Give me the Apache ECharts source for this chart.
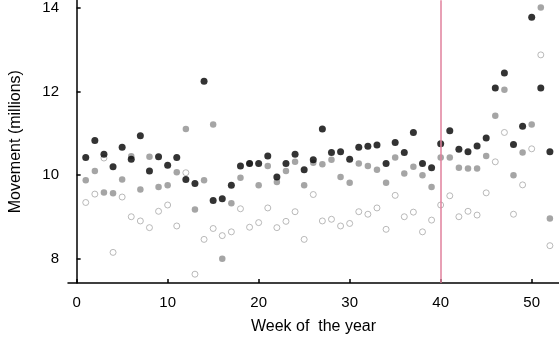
<!DOCTYPE html>
<html>
<head>
<meta charset="utf-8">
<script src="https://cdn.jsdelivr.net/npm/echarts@6/dist/echarts.min.js"></script>
<style>
  html, body { margin: 0; padding: 0; background: #fff; }
  #chart { width: 559px; height: 341px; }
</style>
</head>
<body>
<div id="chart"></div>
<script>
const weeks = [1, 2, 3, 4, 5, 6, 7, 8, 9, 10, 11, 12, 13, 14, 15, 16, 17, 18, 19, 20, 21, 22, 23, 24, 25, 26,
  27, 28, 29, 30, 31, 32, 33, 34, 35, 36, 37, 38, 39, 40, 41, 42, 43, 44, 45, 46, 47, 48, 49, 50, 51, 52];

const blackVals = [10.42, 10.83, 10.50, 10.20, 10.67, 10.38, 10.94, 10.10, 10.44, 10.24, 10.42, 9.90, 9.80,
  12.24, 9.40, 9.44, 9.76, 10.22, 10.28, 10.28, 10.46, 9.96, 10.28, 10.50, 10.13, 10.37, 11.10, 10.54, 10.56,
  10.38, 10.67, 10.69, 10.72, 10.28, 10.78, 10.54, 11.02, 10.28, 10.18, 10.75, 11.06, 10.62, 10.56, 10.70,
  10.89, 12.08, 12.44, 10.73, 11.17, 13.77, 12.08, 10.56];

const greyVals = [9.88, 10.10, 9.59, 9.57, 9.90, 10.45, 9.66, 10.44, 9.72, 9.76, 10.07, 11.10, 9.18, 9.88,
  11.21, 8.01, 9.33, 9.94, 10.28, 9.76, 10.22, 9.84, 10.10, 10.32, 9.76, 10.30, 10.26, 10.37, 9.96, 9.82,
  10.28, 10.22, 10.13, 9.82, 10.42, 10.04, 10.20, 10.00, 9.72, 10.42, 10.42, 10.18, 10.16, 10.16, 10.46,
  11.42, 12.04, 10.00, 10.54, 11.21, 14.00, 8.97];

const openVals = [9.35, 9.55, 10.41, 8.16, 9.48, 9.01, 8.91, 8.75, 9.14, 9.29, 8.79, 10.06, 7.64, 8.47, 8.73,
  8.56, 8.65, 9.20, 8.76, 8.87, 9.22, 8.75, 8.90, 9.13, 8.47, 9.54, 8.91, 8.95, 8.79, 8.85, 9.13, 9.07, 9.22,
  8.71, 9.52, 9.01, 9.12, 8.65, 8.93, 9.29, 9.51, 9.01, 9.14, 9.05, 9.58, 10.32, 11.02, 9.07, 9.77, 10.63,
  12.87, 8.32];

const xTicks = [0, 10, 20, 30, 40, 50];
const yTicks = [8, 10, 12, 14];
const markerWeek = 40;

const pair = vals => weeks.map((w, i) => [w, vals[i]]);
const font = 'Liberation Sans, Arial, sans-serif';

const chart = echarts.init(document.getElementById('chart'));

chart.setOption({
  animation: false,
  grid: { left: 64, right: 0, top: 0, bottom: 58 },
  xAxis: {
    type: 'value',
    min: -0.95,
    max: 53,
    name: 'Week of  the year',
    nameLocation: 'middle',
    nameGap: 36,
    nameTextStyle: { fontFamily: font, fontSize: 16, color: '#000' },
    axisLine: { show: true, lineStyle: { color: '#000', width: 1.5 } },
    axisTick: { show: true, inside: true, length: 4, customValues: xTicks, lineStyle: { color: '#000', width: 1.5 } },
    axisLabel: { customValues: xTicks, fontFamily: font, fontSize: 15, color: '#000', margin: 12 },
    splitLine: { show: false }
  },
  yAxis: {
    type: 'value',
    min: 7.43,
    max: 14.17,
    name: 'Movement (millions)',
    nameLocation: 'middle',
    nameGap: 44,
    nameTextStyle: { fontFamily: font, fontSize: 16, color: '#000' },
    axisLine: { show: true, lineStyle: { color: '#000', width: 1.5 } },
    axisTick: { show: true, inside: true, length: 4, customValues: yTicks, lineStyle: { color: '#000', width: 1.5 } },
    axisLabel: { customValues: yTicks, fontFamily: font, fontSize: 15, color: '#000', margin: 9 },
    splitLine: { show: false }
  },
  series: [
    {
      name: 'open',
      type: 'scatter',
      data: pair(openVals),
      symbol: 'circle',
      symbolSize: 6,
      itemStyle: { color: '#fff', borderColor: '#a8a8a8', borderWidth: 1 },
      z: 2
    },
    {
      name: 'grey',
      type: 'scatter',
      data: pair(greyVals),
      symbol: 'circle',
      symbolSize: 6.5,
      itemStyle: { color: '#8e8e8e' },
      z: 3
    },
    {
      name: 'black',
      type: 'scatter',
      data: pair(blackVals),
      symbol: 'circle',
      symbolSize: 7,
      itemStyle: { color: '#000' },
      z: 4,
      markLine: {
        silent: true,
        symbol: ['none', 'none'],
        label: { show: false },
        lineStyle: { color: '#e0819c', width: 1.5, type: 'solid' },
        data: [{ xAxis: markerWeek }]
      }
    }
  ]
});
</script>
</body>
</html>
